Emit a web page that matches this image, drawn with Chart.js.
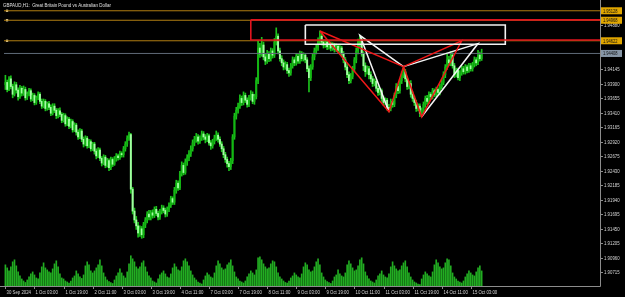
<!DOCTYPE html>
<html>
<head>
<meta charset="utf-8">
<script src="https://cdn.jsdelivr.net/npm/chart.js@4.4.1/dist/chart.umd.min.js"></script>
<style>
  html, body { margin: 0; padding: 0; background: #000; }
  #wrap { width: 625px; height: 297px; }
</style>
</head>
<body>
<div id="wrap"><canvas id="chart" width="625" height="297"></canvas></div>
<script>
// GBPAUD H1 candles, 30 Sep 11:00 -> 15 Oct 09:00
const symbolTitle = 'GBPAUD,H1:  Great Britain Pound vs Australian Dollar';
const firstOpen = 1.9388;

const closes = [
  1.9392, 1.9380, 1.9398, 1.9385, 1.9372, 1.9388, 1.9379, 1.9368, 1.9382, 1.9374,
  1.9380, 1.9366, 1.9372, 1.9378, 1.9364, 1.9370, 1.9358, 1.9366, 1.9372, 1.9360,
  1.9352, 1.9360, 1.9348, 1.9356, 1.9350, 1.9340, 1.9352, 1.9345, 1.9336, 1.9344,
  1.9338, 1.9328, 1.9336, 1.9322, 1.9330, 1.9318, 1.9326, 1.9312, 1.9320, 1.9308,
  1.9300, 1.9310, 1.9296, 1.9288, 1.9298, 1.9285, 1.9292, 1.9280, 1.9288, 1.9276,
  1.9268, 1.9278, 1.9264, 1.9256, 1.9266, 1.9252, 1.9260, 1.9248, 1.9262, 1.9254,
  1.9263, 1.9268, 1.9265, 1.9272, 1.9270, 1.9280, 1.9288, 1.9298, 1.9304, 1.9212,
  1.9175, 1.9160, 1.9150, 1.9138, 1.9145, 1.9135, 1.9152, 1.9160, 1.9170, 1.9165,
  1.9172, 1.9168, 1.9178, 1.9171, 1.9165, 1.9174, 1.9180, 1.9176, 1.9170, 1.9178,
  1.9185, 1.9196, 1.9190, 1.9210, 1.9222, 1.9214, 1.9238, 1.9252, 1.9240, 1.9258,
  1.9265, 1.9272, 1.9280, 1.9290, 1.9296, 1.9300, 1.9293, 1.9298, 1.9305, 1.9300,
  1.9296, 1.9302, 1.9290, 1.9285, 1.9292, 1.9298, 1.9303, 1.9296, 1.9288, 1.9280,
  1.9270, 1.9262, 1.9255, 1.9250, 1.9260, 1.9300, 1.9335, 1.9345, 1.9352, 1.9365,
  1.9358, 1.9370, 1.9362, 1.9355, 1.9366, 1.9372, 1.9360, 1.9368, 1.9395, 1.9450,
  1.9440, 1.9455, 1.9435, 1.9428, 1.9440, 1.9432, 1.9445, 1.9438, 1.9460, 1.9470,
  1.9445, 1.9432, 1.9425, 1.9418, 1.9422, 1.9412, 1.9408, 1.9420, 1.9430, 1.9425,
  1.9436, 1.9428, 1.9440, 1.9432, 1.9438, 1.9430, 1.9415, 1.9400, 1.9418, 1.9435,
  1.9445, 1.9450, 1.9462, 1.9470, 1.9460, 1.9455, 1.9460, 1.9452, 1.9457, 1.9450,
  1.9455, 1.9448, 1.9453, 1.9446, 1.9450, 1.9440, 1.9430, 1.9418, 1.9405, 1.9395,
  1.9402, 1.9415, 1.9430, 1.9445, 1.9460, 1.9465, 1.9440, 1.9420, 1.9410, 1.9415,
  1.9405, 1.9398, 1.9390, 1.9394, 1.9382, 1.9375, 1.9378, 1.9365, 1.9358, 1.9362,
  1.9350, 1.9348, 1.9360, 1.9355, 1.9370, 1.9385, 1.9378, 1.9395, 1.9405, 1.9410,
  1.9398, 1.9385, 1.9390, 1.9372, 1.9365, 1.9358, 1.9348, 1.9352, 1.9340, 1.9345,
  1.9355, 1.9365, 1.9360, 1.9372, 1.9368, 1.9378, 1.9372, 1.9380, 1.9375, 1.9385,
  1.9392, 1.9405, 1.9418, 1.9430, 1.9425, 1.9438, 1.9420, 1.9405, 1.9412, 1.9400,
  1.9408, 1.9415, 1.9410, 1.9418, 1.9412, 1.9420, 1.9415, 1.9422, 1.9430, 1.9425,
  1.9438, 1.9432, 1.94408
];

const highs = [
  1.9404, 1.9396, 1.9402, 1.9403, 1.9389, 1.9393, 1.9392, 1.9383, 1.9387, 1.9385,
  1.9386, 1.9384, 1.9376, 1.9382, 1.9381, 1.9374, 1.9373, 1.9369, 1.9376, 1.9375,
  1.9364, 1.9364, 1.9363, 1.9359, 1.9360, 1.9354, 1.9356, 1.9356, 1.9348, 1.9348,
  1.9349, 1.9341, 1.9340, 1.9339, 1.9334, 1.9333, 1.9330, 1.9329, 1.9324, 1.9323,
  1.9312, 1.9314, 1.9313, 1.9300, 1.9302, 1.9301, 1.9296, 1.9295, 1.9291, 1.9291,
  1.9280, 1.9282, 1.9281, 1.9267, 1.9270, 1.9269, 1.9264, 1.9263, 1.9266, 1.9265,
  1.9267, 1.9272, 1.9271, 1.9276, 1.9275, 1.9284, 1.9292, 1.9302, 1.9308, 1.9306,
  1.9215, 1.9180, 1.9166, 1.9156, 1.9150, 1.9149, 1.9156, 1.9164, 1.9174, 1.9176,
  1.9176, 1.9177, 1.9182, 1.9183, 1.9175, 1.9178, 1.9185, 1.9184, 1.9180, 1.9182,
  1.9189, 1.9200, 1.9199, 1.9215, 1.9227, 1.9226, 1.9242, 1.9258, 1.9256, 1.9263,
  1.9270, 1.9277, 1.9285, 1.9295, 1.9301, 1.9306, 1.9304, 1.9302, 1.9310, 1.9309,
  1.9304, 1.9306, 1.9305, 1.9294, 1.9296, 1.9303, 1.9310, 1.9307, 1.9300, 1.9292,
  1.9284, 1.9274, 1.9266, 1.9259, 1.9264, 1.9304, 1.9340, 1.9350, 1.9357, 1.9371,
  1.9369, 1.9376, 1.9374, 1.9366, 1.9370, 1.9378, 1.9376, 1.9372, 1.9400, 1.9462,
  1.9458, 1.9468, 1.9460, 1.9440, 1.9446, 1.9444, 1.9450, 1.9449, 1.9466, 1.9484,
  1.9474, 1.9450, 1.9437, 1.9430, 1.9427, 1.9426, 1.9416, 1.9424, 1.9435, 1.9434,
  1.9441, 1.9440, 1.9445, 1.9444, 1.9442, 1.9441, 1.9434, 1.9420, 1.9422, 1.9440,
  1.9450, 1.9456, 1.9467, 1.9479, 1.9474, 1.9464, 1.9464, 1.9463, 1.9461, 1.9460,
  1.9459, 1.9458, 1.9457, 1.9456, 1.9454, 1.9453, 1.9444, 1.9434, 1.9422, 1.9410,
  1.9407, 1.9419, 1.9434, 1.9450, 1.9465, 1.9472, 1.9468, 1.9444, 1.9425, 1.9420,
  1.9419, 1.9410, 1.9402, 1.9398, 1.9397, 1.9386, 1.9382, 1.9381, 1.9369, 1.9366,
  1.9365, 1.9355, 1.9364, 1.9363, 1.9374, 1.9390, 1.9389, 1.9399, 1.9410, 1.9419,
  1.9414, 1.9402, 1.9394, 1.9395, 1.9376, 1.9369, 1.9362, 1.9356, 1.9356, 1.9349,
  1.9359, 1.9369, 1.9370, 1.9376, 1.9375, 1.9382, 1.9381, 1.9384, 1.9383, 1.9389,
  1.9396, 1.9410, 1.9422, 1.9440, 1.9436, 1.9444, 1.9442, 1.9424, 1.9416, 1.9416,
  1.9412, 1.9420, 1.9419, 1.9422, 1.9421, 1.9424, 1.9424, 1.9426, 1.9435, 1.9434,
  1.9446, 1.9443, 1.9448
];

const lows = [
  1.9380, 1.9376, 1.9378, 1.9381, 1.9366, 1.9369, 1.9374, 1.9362, 1.9365, 1.9369,
  1.9370, 1.9362, 1.9363, 1.9369, 1.9360, 1.9361, 1.9354, 1.9355, 1.9363, 1.9356,
  1.9348, 1.9349, 1.9344, 1.9345, 1.9346, 1.9336, 1.9337, 1.9341, 1.9331, 1.9332,
  1.9334, 1.9324, 1.9325, 1.9318, 1.9319, 1.9314, 1.9315, 1.9308, 1.9309, 1.9303,
  1.9296, 1.9297, 1.9292, 1.9283, 1.9285, 1.9281, 1.9282, 1.9276, 1.9277, 1.9271,
  1.9263, 1.9265, 1.9260, 1.9251, 1.9253, 1.9248, 1.9249, 1.9243, 1.9245, 1.9250,
  1.9252, 1.9259, 1.9261, 1.9262, 1.9266, 1.9266, 1.9276, 1.9284, 1.9294, 1.9205,
  1.9170, 1.9155, 1.9144, 1.9131, 1.9132, 1.9129, 1.9130, 1.9147, 1.9155, 1.9160,
  1.9160, 1.9163, 1.9164, 1.9167, 1.9160, 1.9161, 1.9170, 1.9172, 1.9165, 1.9166,
  1.9174, 1.9181, 1.9186, 1.9186, 1.9205, 1.9210, 1.9211, 1.9234, 1.9236, 1.9237,
  1.9252, 1.9260, 1.9267, 1.9276, 1.9285, 1.9291, 1.9288, 1.9289, 1.9294, 1.9295,
  1.9290, 1.9292, 1.9286, 1.9279, 1.9281, 1.9288, 1.9294, 1.9291, 1.9284, 1.9275,
  1.9265, 1.9257, 1.9249, 1.9243, 1.9245, 1.9255, 1.9296, 1.9330, 1.9340, 1.9348,
  1.9353, 1.9354, 1.9358, 1.9350, 1.9351, 1.9362, 1.9356, 1.9355, 1.9364, 1.9390,
  1.9434, 1.9436, 1.9430, 1.9422, 1.9424, 1.9427, 1.9428, 1.9433, 1.9434, 1.9455,
  1.9440, 1.9428, 1.9420, 1.9413, 1.9414, 1.9407, 1.9402, 1.9404, 1.9416, 1.9420,
  1.9421, 1.9424, 1.9424, 1.9428, 1.9428, 1.9425, 1.9410, 1.9376, 1.9395, 1.9414,
  1.9430, 1.9440, 1.9446, 1.9457, 1.9455, 1.9450, 1.9451, 1.9447, 1.9448, 1.9445,
  1.9446, 1.9443, 1.9444, 1.9441, 1.9442, 1.9435, 1.9425, 1.9413, 1.9400, 1.9390,
  1.9391, 1.9398, 1.9410, 1.9425, 1.9440, 1.9452, 1.9436, 1.9412, 1.9402, 1.9406,
  1.9398, 1.9393, 1.9385, 1.9386, 1.9377, 1.9370, 1.9371, 1.9360, 1.9353, 1.9354,
  1.9345, 1.9342, 1.9344, 1.9350, 1.9351, 1.9366, 1.9373, 1.9374, 1.9390, 1.9400,
  1.9393, 1.9380, 1.9381, 1.9367, 1.9360, 1.9353, 1.9343, 1.9344, 1.9334, 1.9336,
  1.9340, 1.9350, 1.9355, 1.9356, 1.9363, 1.9364, 1.9368, 1.9368, 1.9371, 1.9371,
  1.9381, 1.9388, 1.9400, 1.9414, 1.9420, 1.9420, 1.9416, 1.9400, 1.9401, 1.9396,
  1.9395, 1.9404, 1.9406, 1.9406, 1.9408, 1.9409, 1.9411, 1.9411, 1.9418, 1.9420,
  1.9422, 1.9428, 1.9429
];

const volumes = [
  2100, 1800, 1500, 1900, 2400, 2600, 2000, 1400, 1000, 700, 500, 350, 600,
  900, 1200, 1400, 1100, 800, 700, 1300, 1900, 2300, 1800, 1600, 1400, 1300, 1700, 2200, 2500, 1900, 1200, 800, 700, 500, 400, 300, 500,
  800, 1000, 1500, 1200, 900, 750, 1100, 2000, 2400, 2100, 1500, 1300, 1500, 1800, 2100, 2600, 2000, 1300, 900, 600, 450, 350, 250, 600,
  1000, 1300, 1700, 1300, 1000, 800, 1400, 2200, 3000, 2700, 2400, 1900, 1700, 1900, 2300, 2500, 1900, 1400, 1000, 800, 500, 400, 300, 700,
  1100, 1300, 1500, 1200, 900, 800, 1200, 1800, 2200, 1900, 1600, 1500, 1900, 2500, 2700, 2400, 2000, 1500, 1100, 800, 600, 400, 300, 200,
  600, 1000, 1300, 1100, 900, 800, 1300, 2000, 2500, 2200, 1800, 1600, 1700, 2100, 2300, 2600, 2000, 1400, 900, 700, 500, 400, 300, 500,
  900, 1200, 1500, 1300, 1100, 1600, 2800, 2900, 2600, 2200, 1900, 1700, 1800, 2200, 2500, 2400, 1900, 1300, 900, 700, 500, 350, 300, 500,
  800, 1000, 1300, 1100, 900, 800, 1200, 1900, 2300, 2100, 1600, 1400, 1500, 1900, 2400, 2700, 2100, 1300, 900, 600, 450, 350, 250, 500,
  900, 1100, 1600, 1200, 1000, 900, 1300, 2100, 2500, 2200, 1800, 1500, 1600, 2000, 2600, 2800, 2200, 1400, 1000, 700, 500, 400, 300, 600,
  1000, 1200, 1500, 1100, 900, 800, 1200, 1900, 2400, 2000, 1700, 1500, 1600, 2000, 2300, 2500, 1900, 1300, 900, 600, 400, 300, 200, 150,
  700, 1100, 1400, 1200, 1000, 900, 1400, 2100, 2600, 2300, 1900, 1700, 1800, 2300, 2700, 2600, 2000, 1300, 900, 700, 500, 400, 300, 500,
  900, 1200, 1500, 1300, 1100, 1000, 1400, 1800, 2000, 1500
];

const timeLabels = ['30 Sep 2024', '1 Oct 03:00', '1 Oct 19:00', '2 Oct 11:00', '3 Oct 03:00', '3 Oct 19:00',
  '4 Oct 11:00', '7 Oct 03:00', '7 Oct 19:00', '8 Oct 11:00', '9 Oct 03:00', '9 Oct 19:00', '10 Oct 11:00',
  '11 Oct 03:00', '11 Oct 19:00', '14 Oct 11:00', '15 Oct 03:00'];
const timeLabelBars = [0, 16, 32, 48, 64, 80, 96, 112, 128, 144, 160, 176, 192, 208, 224, 240, 256];

const priceTicks = [1.90715, 1.90960, 1.91205, 1.91450, 1.91695, 1.91940, 1.92185, 1.92430, 1.92675,
  1.92920, 1.93165, 1.93410, 1.93655, 1.93900, 1.94145, 1.94390, 1.94635, 1.94880];

// horizontal levels drawn on the chart
const levelPrices = [1.95128, 1.94968, 1.94622];
const bidPrice = 1.94408;

// harmonic patterns: bar index + price of each pivot
const redPivotBars = [173, 211, 219, 229, 251];
const redPivotPrices = [1.94787, 1.93423, 1.94186, 1.93340, 1.94620];
const whitePivotBars = [195, 211, 219, 229, 260];
const whitePivotPrices = [1.94713, 1.93423, 1.94186, 1.93340, 1.94575];

// zones: [fromBar, toBar], [topPrice, bottomPrice]
const redZoneBars = [135, 340];
const redZonePrices = [1.94975, 1.94636];
const whiteZoneBars = [165, 275];
const whiteZonePrices = [1.94887, 1.94563];

const xMin = -0.77, xMax = 327.1;
const yMin = 1.904858, yMax = 1.952422;

const opens = closes.map((c, i) => i === 0 ? firstOpen : closes[i - 1]);
const isBull = i => closes[i] >= opens[i];

const candleWicks = closes.map((c, i) => ({ x: i, y: [lows[i], highs[i]] }));
const candleBodies = closes.map((c, i) => ({ x: i, y: [opens[i], c] }));
const volumeBars = volumes.map((v, i) => ({ x: i, y: v }));

const pick = (bars, prices, idx) => idx.map(k => ({ x: bars[k], y: prices[k] }));
const zone = (bars, prices) => [
  { x: bars[0], y: prices[0] }, { x: bars[1], y: prices[0] },
  { x: bars[1], y: prices[1] }, { x: bars[0], y: prices[1] }, { x: bars[0], y: prices[0] }
];

function lineSet(data, color, width) {
  return {
    type: 'line', data, borderColor: color, borderWidth: width,
    pointRadius: 0, fill: false, tension: 0, yAxisID: 'y', order: 0
  };
}

const datasets = [
  lineSet(zone(redZoneBars, redZonePrices), '#e0141e', 1.6),
  lineSet(zone(whiteZoneBars, whiteZonePrices), '#f2f2f2', 1.6),
  lineSet(pick(redPivotBars, redPivotPrices, [0, 1, 2, 0]), '#f01818', 1.5),
  lineSet(pick(redPivotBars, redPivotPrices, [2, 3, 4, 2]), '#f01818', 1.5),
  lineSet(pick(whitePivotBars, whitePivotPrices, [1, 0, 2]), '#f4f4f4', 1.5),
  lineSet(pick(whitePivotBars, whitePivotPrices, [3, 4, 2]), '#f4f4f4', 1.5),
  ...levelPrices.map(p => lineSet([{ x: xMin, y: p }, { x: xMax, y: p }], '#b07d12', 1)),
  lineSet([{ x: xMin, y: bidPrice }, { x: xMax, y: bidPrice }], '#5f6a78', 1),
  {
    type: 'scatter', data: levelPrices.map(p => ({ x: 0.9, y: p })), yAxisID: 'y', order: 0,
    pointStyle: 'rect', pointRadius: 1.6, backgroundColor: '#f3e2b0', borderWidth: 0
  },
  {
    type: 'bar', data: candleBodies, yAxisID: 'y', order: 1, grouped: false,
    barThickness: 1.3, minBarLength: 1, borderWidth: 0,
    backgroundColor: ctx => isBull(ctx.dataIndex) ? '#13b713' : '#a2ffa2'
  },
  {
    type: 'bar', data: candleWicks, yAxisID: 'y', order: 2, grouped: false,
    barThickness: 1, borderWidth: 0, backgroundColor: '#1cc21c'
  },
  {
    type: 'bar', data: volumeBars, yAxisID: 'yv', order: 3, grouped: false,
    barThickness: 1, borderWidth: 0, backgroundColor: '#22ad22'
  }
];

const axisColor = '#8c8c8c';
const textColor = '#d6d6d6';

// MT4 text is small and narrow: draw it squeezed horizontally
function smallText(c, txt, x, y, color, size) {
  c.save();
  c.font = (size || 6) + 'px "Liberation Sans"';
  c.fillStyle = color;
  c.textBaseline = 'middle';
  c.textAlign = 'left';
  c.translate(x, y);
  c.scale(0.72, 1);
  c.fillText(txt, 0, 0);
  c.restore();
}

const mt4Frame = {
  id: 'mt4Frame',
  beforeDraw(chart) {
    const c = chart.ctx;
    c.save();
    c.fillStyle = '#000';
    c.fillRect(0, 0, chart.width, chart.height);
    c.restore();
  },
  afterDraw(chart) {
    const c = chart.ctx, a = chart.chartArea, xs = chart.scales.x, ys = chart.scales.y;
    c.save();
    c.strokeStyle = axisColor;
    c.lineWidth = 1;
    // frame lines
    c.beginPath();
    c.moveTo(0, a.bottom + 0.5);
    c.lineTo(a.right + 0.5, a.bottom + 0.5);
    c.lineTo(a.right + 0.5, 0);
    c.stroke();
    // time axis
    timeLabelBars.forEach((b, k) => {
      const px = Math.round(xs.getPixelForValue(b)) + 0.5;
      c.beginPath();
      c.moveTo(px, a.bottom);
      c.lineTo(px, a.bottom + 3);
      c.stroke();
      smallText(c, timeLabels[k], px + 1, a.bottom + 6, textColor);
    });
    // price axis
    priceTicks.forEach(p => {
      const py = Math.round(ys.getPixelForValue(p)) + 0.5;
      c.beginPath();
      c.moveTo(a.right, py);
      c.lineTo(a.right + 3, py);
      c.stroke();
      smallText(c, p.toFixed(5), a.right + 4, py, textColor);
    });
    // title
    smallText(c, symbolTitle, 3, 5, '#e0e0e0', 6.2);
    // price boxes on the right axis
    const box = (p, bg, fg) => {
      const py = ys.getPixelForValue(p);
      c.fillStyle = bg;
      c.fillRect(a.right + 1, py - 3.5, 21, 7);
      smallText(c, p.toFixed(5), a.right + 3, py + 0.3, fg, 5.6);
    };
    levelPrices.forEach(p => box(p, '#e0a600', '#111'));
    box(bidPrice, '#8796a6', '#111');
    c.restore();
  }
};

new Chart(document.getElementById('chart'), {
  type: 'bar',
  data: { datasets },
  options: {
    responsive: false,
    animation: false,
    devicePixelRatio: 1,
    layout: { padding: { top: 1, bottom: 11, left: 0, right: 25 } },
    plugins: { legend: { display: false }, tooltip: { enabled: false } },
    scales: {
      x: { type: 'linear', display: false, min: xMin, max: xMax, offset: false },
      y: { type: 'linear', display: false, min: yMin, max: yMax },
      yv: { type: 'linear', display: false, min: 0, max: 28000 }
    }
  },
  plugins: [mt4Frame]
});
</script>
</body>
</html>
